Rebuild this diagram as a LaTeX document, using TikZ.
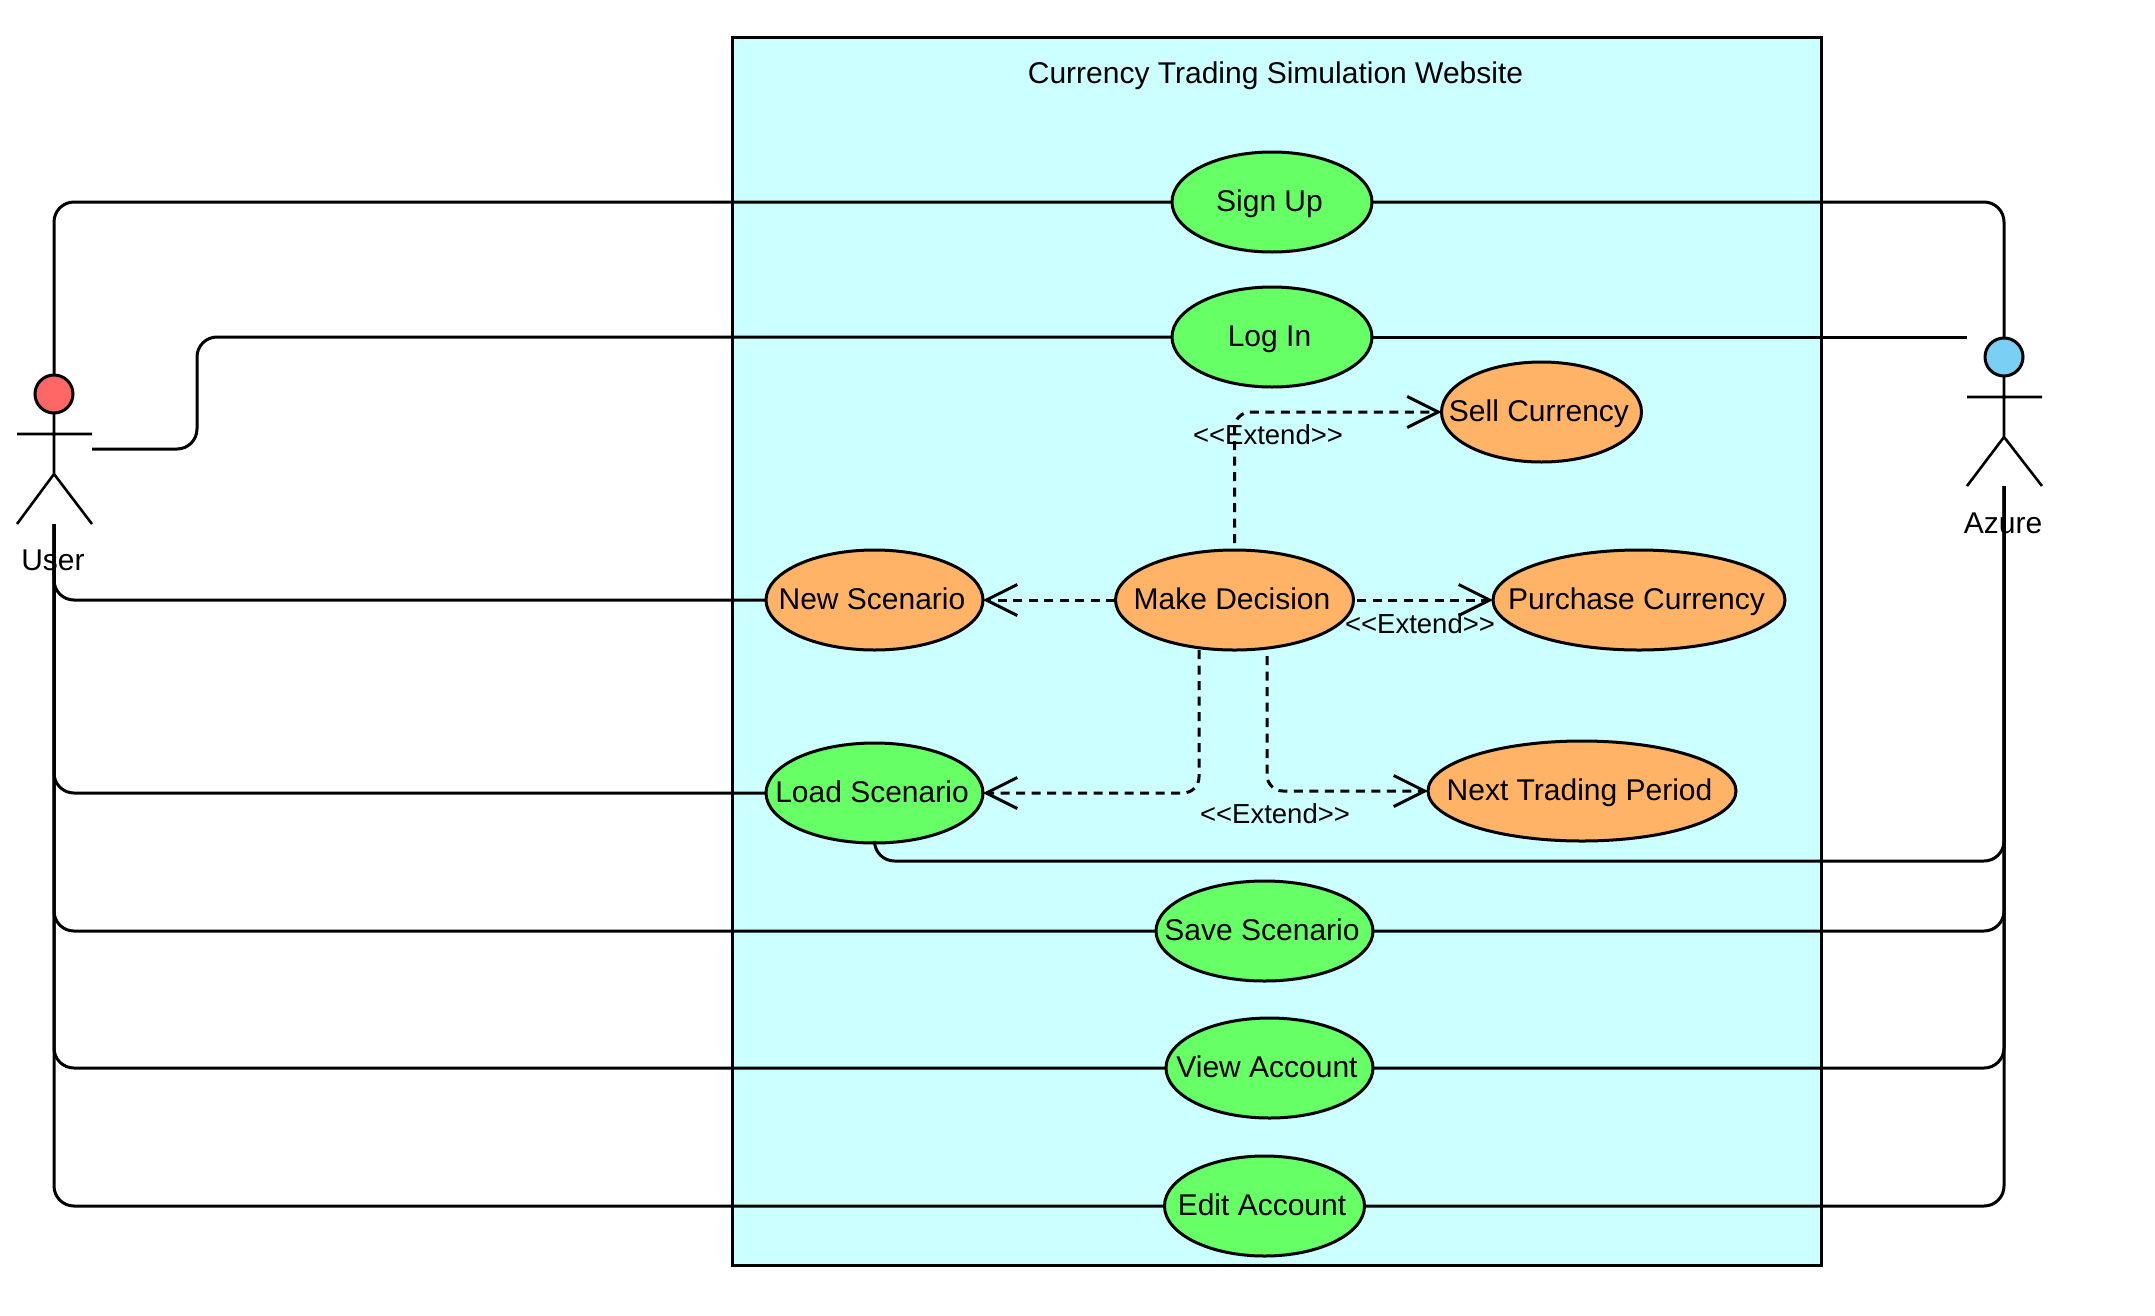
\documentclass[tikz,border=0pt]{standalone}
\usepackage{fontspec}
\setmainfont{Liberation Sans}
\usetikzlibrary{shapes.geometric,arrows.meta}
\definecolor{sysbg}{HTML}{CCFFFF}
\definecolor{ucgreen}{HTML}{66FF66}
\definecolor{ucorange}{HTML}{FFB366}
\definecolor{userred}{HTML}{FF6666}
\definecolor{azureblue}{HTML}{7ACFF5}
\newcommand{\uctext}[1]{\makebox[0pt][c]{#1\hspace*{5pt}}}
\tikzset{
  usecase/.style={ellipse,draw=black,line width=3pt,inner sep=0pt,outer sep=0pt,minimum height=100pt,text height=25pt,text depth=6.5pt,font=\fontsize{30}{34}\selectfont},
  greencase/.style={usecase,fill=ucgreen},
  orangecase/.style={usecase,fill=ucorange},
  link/.style={draw=black,line width=3pt,rounded corners=20pt},
  extendlink/.style={draw=black,line width=3pt,rounded corners=16pt,dash pattern=on 9pt off 6.5pt,-{Straight Barb[length=31pt,width=31pt,line width=3pt]}},
  stick/.style={draw=black,line width=2.6pt},
  head/.style={circle,draw=black,line width=3pt,inner sep=0pt,outer sep=0pt,minimum size=38pt},
  actorname/.style={inner sep=0pt,font=\fontsize{30}{34}\selectfont},
  extendtext/.style={inner sep=0pt,font=\fontsize{27.5}{30}\selectfont},
  titletext/.style={inner sep=0pt,font=\fontsize{30}{34}\selectfont}
}
\begin{document}
\begin{tikzpicture}[x=1pt,y=-1pt]
\useasboundingbox (0,0) rectangle (2155,1315);
% system boundary
\node[draw=black,line width=3pt,fill=sysbg,inner sep=0pt,outer sep=0pt,minimum width=1089pt,minimum height=1228pt] (system) at (1276.5,651) {};
\node[titletext] (title) at (1275.5,76) {Currency Trading Simulation Website};
% use cases
\node[greencase,minimum width=200pt] (signup) at (1272,202) {\uctext{Sign Up}};
\node[greencase,minimum width=200pt] (login) at (1272,337) {\uctext{Log In}};
\node[orangecase,minimum width=200pt] (sell) at (1541.5,412) {\uctext{Sell Currency}};
\node[orangecase,minimum width=238pt] (decision) at (1234.5,600) {\uctext{Make Decision}};
\node[orangecase,minimum width=292pt] (purchase) at (1639,600) {\uctext{Purchase Currency}};
\node[orangecase,minimum width=217pt] (newsc) at (874.5,600) {\uctext{New Scenario}};
\node[greencase,minimum width=217pt] (loadsc) at (874.5,793) {\uctext{Load Scenario}};
\node[orangecase,minimum width=308pt] (next) at (1582,791) {\uctext{Next Trading Period}};
\node[greencase,minimum width=217pt] (savesc) at (1264.5,931) {\uctext{Save Scenario}};
\node[greencase,minimum width=207pt] (view) at (1269.5,1068) {\uctext{View Account}};
\node[greencase,minimum width=200pt] (edit) at (1264.5,1206) {\uctext{Edit Account}};
% actors
\node[head,fill=userred] (userhead) at (54,394) {};
\coordinate (userneck) at (54,474);
\coordinate (userarml) at (17,434);
\coordinate (userarmr) at (92,434);
\coordinate (userlegl) at (17,524);
\coordinate (userlegr) at (92,524);
\coordinate (userfoot) at (54,524);
\coordinate (userside) at (92,449);
\draw[stick] (userhead.south) -- (userneck) (userarml) -- (userarmr) (userlegl) -- (userneck) -- (userlegr);
\node[actorname] (username) at (53,560) {User};
\node[head,fill=azureblue] (azurehead) at (2004,357) {};
\coordinate (azureneck) at (2004,437);
\coordinate (azurearml) at (1967,397);
\coordinate (azurearmr) at (2042,397);
\coordinate (azurelegl) at (1967,486);
\coordinate (azurelegr) at (2042,486);
\coordinate (azurefoot) at (2004,486);
\coordinate (azureside) at (1967,337);
\draw[stick] (azurehead.south) -- (azureneck) (azurearml) -- (azurearmr) (azurelegl) -- (azureneck) -- (azurelegr);
\node[actorname] (azurename) at (2003,523) {Azure};
% associations, user side
\draw[link] (userhead.north) |- (signup.west);
\coordinate (loginbendlow) at (197,449);
\coordinate (loginbendhigh) at (197,337);
\draw[link] (userside) -- (loginbendlow) -- (loginbendhigh) -- (login.west);
\draw[link] (userfoot) |- (newsc.west);
\draw[link] (userfoot) |- (loadsc.west);
\draw[link] (userfoot) |- (savesc.west);
\draw[link] (userfoot) |- (view.west);
\draw[link] (userfoot) |- (edit.west);
% associations, Azure side
\draw[link] (signup.east) -| (azurehead.north);
\draw[link] (login.east) -- (azureside);
\coordinate (loadlow) at (874.5,861);
\draw[link] (loadsc.south) -- (loadlow) -| (azurefoot);
\draw[link] (savesc.east) -| (azurefoot);
\draw[link] (view.east) -| (azurefoot);
\draw[link] (edit.east) -| (azurefoot);
% extend relations
\coordinate (dectop) at (1234.5,543);
\coordinate (decright) at (1357,600);
\coordinate (decleft) at (1115,600);
\coordinate (declowa) at (1199,650);
\coordinate (declowb) at (1267,656);
\coordinate (loadlevel) at (1199,793);
\coordinate (nextlevel) at (1267,791);
\draw[extendlink] (dectop) |- (sell.west);
\draw[extendlink] (decright) -- (purchase.west);
\draw[extendlink] (decleft) -- (newsc.east);
\draw[extendlink] (declowa) -- (loadlevel) -- (loadsc.east);
\draw[extendlink] (declowb) -- (nextlevel) -- (next.west);
\node[extendtext] (ext1) at (1268,435) {<{}<Extend>{}>};
\node[extendtext] (ext2) at (1420,624) {<{}<Extend>{}>};
\node[extendtext] (ext3) at (1275,814) {<{}<Extend>{}>};
\end{tikzpicture}
\end{document}
